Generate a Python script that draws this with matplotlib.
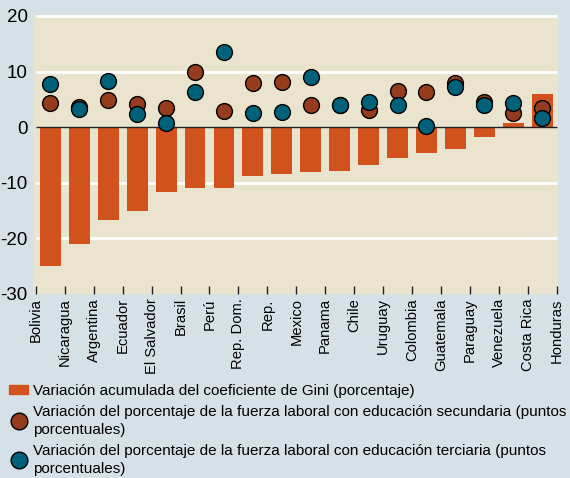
import matplotlib.pyplot as plt
from matplotlib.lines import Line2D
import numpy as np

plt.rcParams['font.family'] = ['Liberation Sans Narrow', 'Liberation Sans', 'DejaVu Sans']

# tick labels sit on the tick marks (19 labels, 18 bars in between)
countries = ['Bolivia', 'Nicaragua', 'Argentina', 'Ecuador', 'El Salvador', 'Brasil',
             'Perú', 'Rep. Dom.', 'Rep.', 'Mexico', 'Panama', 'Chile', 'Uruguay',
             'Colombia', 'Guatemala', 'Paraguay', 'Venezuela', 'Costa Rica', 'Honduras']

gini = [-25.0, -21.0, -16.7, -15.0, -11.6, -11.0, -11.0, -8.7, -8.5,
        -8.1, -7.9, -6.8, -5.6, -4.7, -3.9, -1.8, 0.7, 6.0]
secundaria = [4.4, 3.6, 4.9, 4.2, 3.5, 10.0, 2.9, 8.0, 8.1,
              4.0, 4.0, 3.1, 6.5, 6.4, 7.9, 4.6, 2.5, 3.4]
terciaria = [7.8, 3.3, 8.3, 2.4, 0.7, 6.3, 13.5, 2.5, 2.8,
             9.1, 4.0, 4.6, 3.9, 0.2, 7.2, 4.0, 4.3, 1.6]

bg = '#D6E1E7'
plotbg = '#EAE4CF'
c_bar = '#D2521E'
c_sec = '#963C1E'
c_ter = '#00627A'

fig = plt.figure(figsize=(5.7, 4.78), dpi=100, facecolor=bg)
ax = fig.add_axes([0.058, 0.385, 0.921, 0.584])
ax.set_facecolor(plotbg)

x = np.arange(len(gini)) + 0.5
for y in [20, 10, -10, -20]:
    ax.hlines(y, 0, 18, color='white', lw=2, zorder=1)
bars = ax.bar(x, gini, width=0.72, color=c_bar, zorder=2)
ax.hlines(0, 0, 18, color='#222222', lw=1, zorder=2.5)
s1 = ax.scatter(x, secundaria, s=130, color=c_sec, edgecolor='black', lw=1, zorder=3)
s2 = ax.scatter(x, terciaria, s=130, color=c_ter, edgecolor='black', lw=1, zorder=4)

ax.set_xlim(-0.1, 18.05)
ax.set_ylim(-30, 20.2)
ax.set_yticks([20, 10, 0, -10, -20, -30])
ax.set_yticklabels(['20', '10', '0', '-10', '-20', '-30'], fontsize=13.5)
ax.set_xticks(np.arange(len(countries)))
ax.set_xticklabels(countries, rotation=90, fontsize=10.6)
ax.tick_params(axis='y', length=0, pad=4)
ax.tick_params(axis='x', direction='in', length=6, width=1, color='#222222', pad=3)
for sp in ax.spines.values():
    sp.set_visible(False)

handles = [
    plt.Rectangle((0, 0), 1, 1, color=c_bar),
    Line2D([], [], ls='', marker='o', ms=12, mfc=c_sec, mec='black', mew=1),
    Line2D([], [], ls='', marker='o', ms=12, mfc=c_ter, mec='black', mew=1),
]
labels = [
    'Variación acumulada del coeficiente de Gini (porcentaje)',
    'Variación del porcentaje de la fuerza laboral con educación secundaria (puntos\nporcentuales)',
    'Variación del porcentaje de la fuerza laboral con educación terciaria (puntos\nporcentuales)',
]
leg = fig.legend(handles, labels, loc='upper left', bbox_to_anchor=(0.016, 0.197),
                 frameon=False, fontsize=11, handlelength=1.25, handleheight=0.62,
                 handletextpad=0.3, labelspacing=0.5, borderaxespad=0, borderpad=0)
for t in leg.get_texts():
    t.set_linespacing(1.3)

plt.savefig('out.png', dpi=100, facecolor=bg)
